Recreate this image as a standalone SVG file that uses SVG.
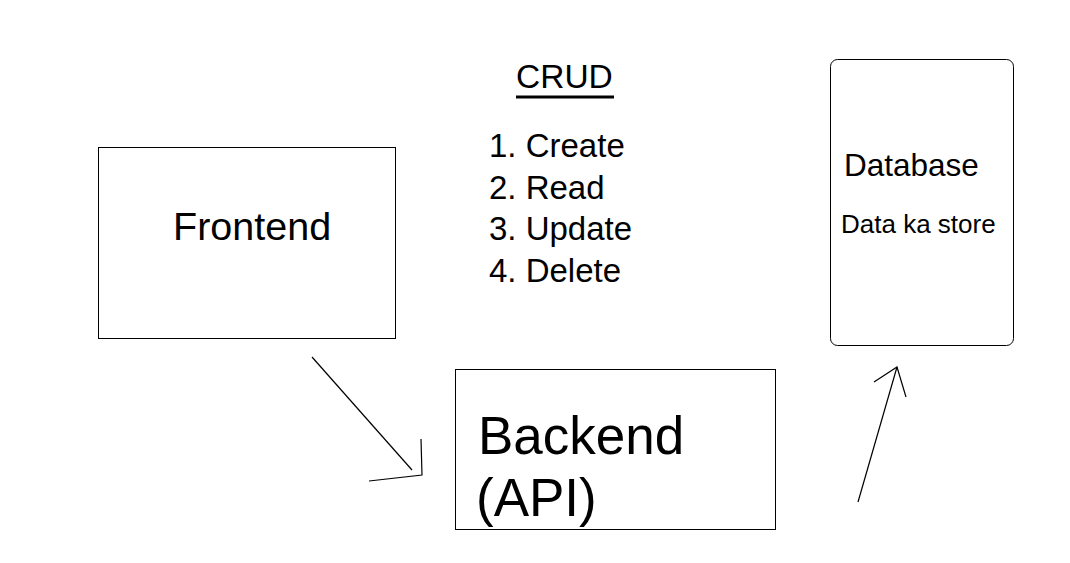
<svg xmlns="http://www.w3.org/2000/svg" width="1070" height="563" viewBox="0 0 1070 563">
<style>
.box{fill:#fff;stroke:#000;stroke-width:1}
.t{font-family:"Liberation Sans",Arial,sans-serif;fill:#000}
.c{fill:none;stroke:#000;stroke-width:1.2}
</style>
<rect width="1070" height="563" fill="#fff"/>
<g id="frontend">
<rect class="box" x="98.5" y="147.5" width="297" height="191"/>
<text class="t" x="173" y="240" font-size="39.5">Frontend</text>
</g>
<g id="backend">
<rect class="box" x="455.5" y="369.5" width="320" height="160"/>
<text class="t" x="478" y="454" font-size="53">Backend</text>
<text class="t" x="476" y="516" font-size="53">(API)</text>
</g>
<g id="database">
<rect class="box" x="830.5" y="59.5" width="183" height="286" rx="7"/>
<text class="t" x="844" y="176" font-size="31.5">Database</text>
<text class="t" x="841" y="233" font-size="26">Data ka store</text>
</g>
<g id="crud">
<text class="t" x="516" y="88" font-size="33.5">CRUD</text>
<line x1="516" y1="97" x2="614" y2="97" stroke="#000" stroke-width="3"/>
<text class="t" x="489" y="157" font-size="33">1. Create</text>
<text class="t" x="489" y="199" font-size="33">2. Read</text>
<text class="t" x="489" y="240" font-size="33">3. Update</text>
<text class="t" x="489" y="282" font-size="33">4. Delete</text>
</g>
<g id="connectors">
<path class="c" d="M312 357 L412 470"/>
<path class="c" d="M421 439 L422 475 L369 481"/>
<path class="c" d="M858 502 L897 367"/>
<path class="c" d="M874 382 L897 367 L906 397"/>
</g>
</svg>
